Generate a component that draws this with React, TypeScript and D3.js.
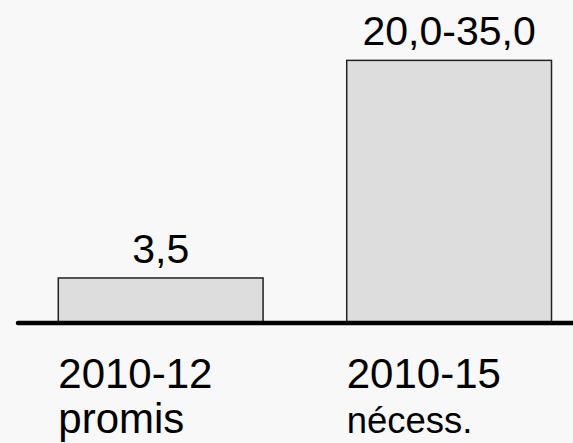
import React from "react";
import * as d3 from "d3";

const categories = ["2010-12", "2010-15"];
const subLabels = ["promis", "nécess."];
const values = [3.5, 20.8];
const valueLabels = ["3,5", "20,0-35,0"];

const W = 573;
const H = 443;

export default function App() {
  const x = d3.scaleBand<string>().domain(categories).range([58.3, 551.5]).paddingInner(0.29).paddingOuter(0);
  const y = d3.scaleLinear().domain([0, 25.6]).range([322, 0]);
  const font = "'Liberation Sans', Arial, Helvetica, sans-serif";
  return (
    <div style={{ position: "fixed", left: 0, top: 0 }}>
      <svg width={W} height={H} style={{ display: "block", background: "#f8f8f8" }}>
        <rect x={0} y={0} width={W} height={H} fill="#f8f8f8" />
        {categories.map((c, i) => {
          const bx = x(c)!;
          const bw = x.bandwidth();
          return (
            <g key={c}>
              <rect x={bx} y={y(values[i])} width={bw} height={y(0) - y(values[i])} fill="#dddddd" stroke="#222" strokeWidth={1.5} />
              <text x={bx + bw / 2} y={y(values[i]) - 15} textAnchor="middle" fontFamily={font} fontSize={41} fill="#000">
                {valueLabels[i]}
              </text>
              <text x={bx} y={388.3} fontFamily={font} fontSize={42} fill="#000">
                {c}
              </text>
              <text x={bx} y={433} fontFamily={font} fontSize={i === 0 ? 42 : 36.5} fill="#000">
                {subLabels[i]}
              </text>
            </g>
          );
        })}
        <line x1={18} x2={W + 5} y1={y(0) + 1} y2={y(0) + 1} stroke="#000" strokeWidth={4.5} strokeLinecap="round" />
      </svg>
    </div>
  );
}
